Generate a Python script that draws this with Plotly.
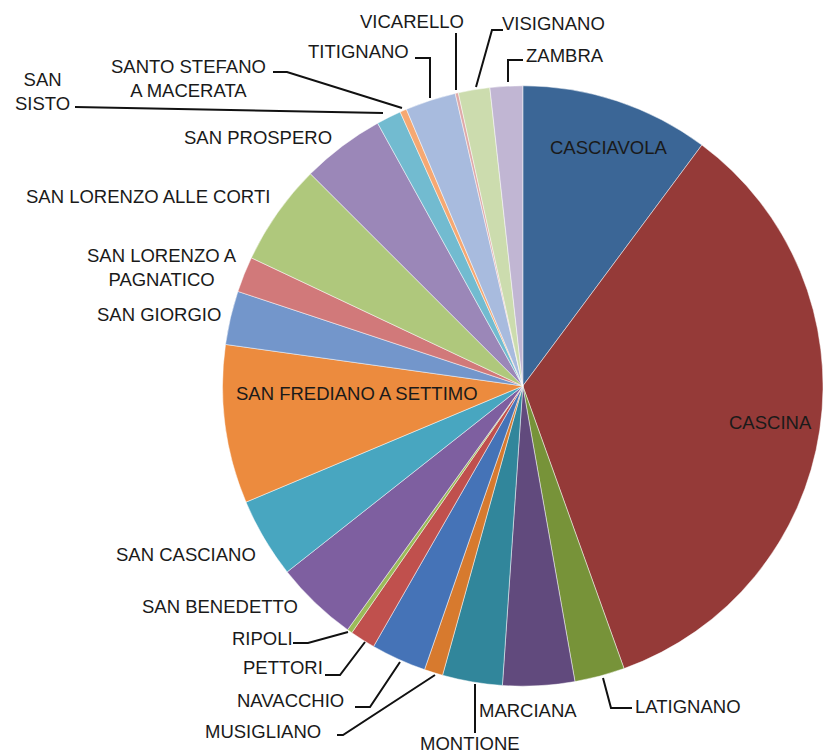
import plotly.graph_objects as go

W, H = 823, 754

categories = ["CASCIAVOLA", "CASCINA", "LATIGNANO", "MARCIANA", "MONTIONE", "MUSIGLIANO",
              "NAVACCHIO", "PETTORI", "RIPOLI", "SAN BENEDETTO", "SAN CASCIANO",
              "SAN FREDIANO A SETTIMO", "SAN GIORGIO", "SAN LORENZO A PAGNATICO",
              "SAN LORENZO ALLE CORTI", "SAN PROSPERO", "SAN SISTO",
              "SANTO STEFANO A MACERATA", "TITIGNANO", "VICARELLO", "VISIGNANO", "ZAMBRA"]

values = [36.6, 123.6, 9.7, 13.9, 11.6, 3.6, 10.7, 4.9, 1.0, 16.0, 15.5,
          30.7, 10.4, 6.9, 19.7, 16.1, 4.8, 1.3, 9.8, 0.6, 6.1, 6.3]

colors = ["#3B6696", "#953A38", "#779339", "#614A7D", "#31869B", "#D77A2E",
          "#4573B7", "#C0504D", "#9BBB59", "#7E5FA0", "#48A6C0",
          "#EC8B3E", "#7396CB", "#D1797A", "#AFC87C", "#9B87B8", "#72BBD0",
          "#F6A872", "#A8BBDE", "#DFA9A8", "#CCDCAE", "#C1B6D3"]

# label display text (line breaks) and placement in pixels (layout, not data)
label_text = {
    "SAN LORENZO A PAGNATICO": "SAN LORENZO A<br>PAGNATICO",
    "SAN SISTO": "SAN<br>SISTO",
    "SANTO STEFANO A MACERATA": "SANTO STEFANO<br>A MACERATA",
}
label_pos = {
    "CASCIAVOLA": (609, 147), "CASCINA": (770, 422), "LATIGNANO": (688, 706),
    "MARCIANA": (528, 710), "MONTIONE": (470, 743), "MUSIGLIANO": (263, 731),
    "NAVACCHIO": (290, 700), "PETTORI": (283, 667), "RIPOLI": (262, 638),
    "SAN BENEDETTO": (220, 606), "SAN CASCIANO": (186, 554),
    "SAN FREDIANO A SETTIMO": (357, 393), "SAN GIORGIO": (159, 314),
    "SAN LORENZO A PAGNATICO": (162, 267), "SAN LORENZO ALLE CORTI": (148, 196),
    "SAN PROSPERO": (258, 137), "SAN SISTO": (42, 91),
    "SANTO STEFANO A MACERATA": (188, 79), "TITIGNANO": (358, 51),
    "VICARELLO": (412, 21), "VISIGNANO": (553, 23), "ZAMBRA": (565, 55),
}
leaders = [
    [(603, 678), (611, 708), (632, 708)],
    [(475, 684), (475, 733)],
    [(435, 675), (343, 735), (337, 735)],
    [(400, 662), (370, 707), (355, 707)],
    [(365, 642), (340, 675), (325, 675)],
    [(348, 632), (308, 643), (293, 643)],
    [(383, 113), (75, 107)],
    [(402, 108), (287, 72), (273, 72)],
    [(430, 98), (430, 58), (415, 58)],
    [(456, 90), (456, 33)],
    [(476, 87), (492, 30), (503, 30)],
    [(508, 82), (508, 60), (523, 60)],
]

def px(x):
    return x / W

def py(y):
    return 1 - y / H

fig = go.Figure(go.Pie(
    labels=categories, values=values, sort=False, direction="clockwise", rotation=0,
    marker=dict(colors=colors, line=dict(color="rgba(255,255,255,0.6)", width=0.8)),
    textinfo="none", hoverinfo="label+percent", showlegend=False,
    domain=dict(x=[0.2705, 1.0], y=[0.0896, 0.8866]),
))

font = dict(family="Liberation Sans, Arial, sans-serif", size=18.5, color="#1a1a1a")
annotations = []
for c in categories:
    x, y = label_pos[c]
    annotations.append(dict(x=px(x), y=py(y), xref="paper", yref="paper",
                            text=label_text.get(c, c), showarrow=False, font=font,
                            xanchor="center", yanchor="middle", align="center"))

shapes = []
for pts in leaders:
    path = "M " + " L ".join(f"{px(a):.5f},{py(b):.5f}" for a, b in pts)
    shapes.append(dict(type="path", path=path, xref="paper", yref="paper",
                       line=dict(color="#111111", width=2)))

fig.update_layout(width=W, height=H, margin=dict(l=0, r=0, t=0, b=0),
                  paper_bgcolor="white", plot_bgcolor="white",
                  annotations=annotations, shapes=shapes)

fig.write_html("out.html", config={"displayModeBar": False},
               post_script="document.body.style.margin='0';document.body.style.overflow='hidden';")
